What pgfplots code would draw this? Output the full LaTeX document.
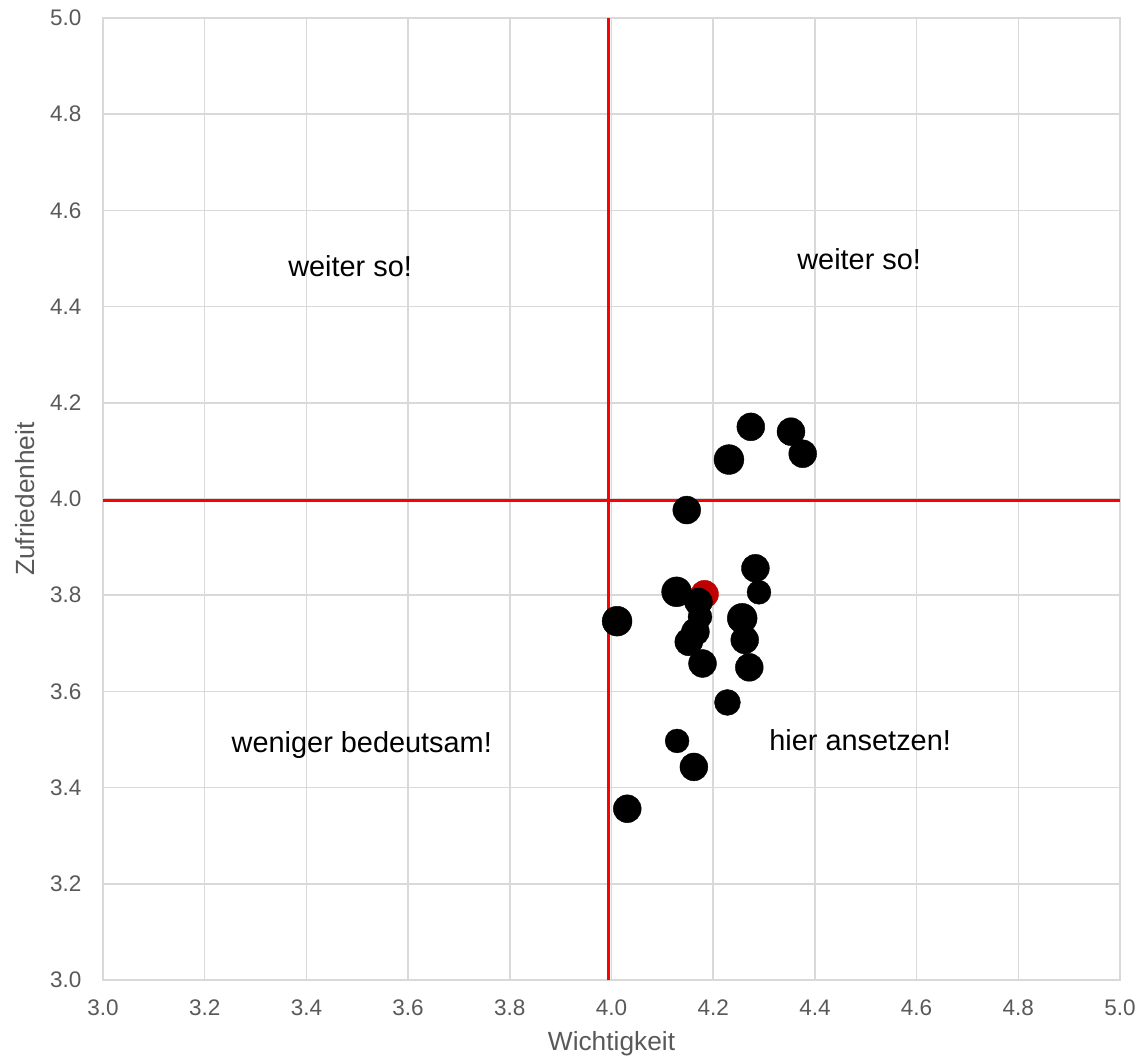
\documentclass[border=0pt]{standalone}
\usepackage{pgfplots}
\pgfplotsset{compat=1.18}
\usepackage{fontspec}
\setmainfont{Liberation Sans}
\definecolor{gridc}{HTML}{D9D9D9}
\definecolor{tickc}{HTML}{595959}
\definecolor{darkred}{HTML}{C00000}
\begin{document}
\begin{tikzpicture}[x=1bp,y=1bp]
\begin{axis}[
  scale only axis,
  width=508.5bp, height=481bp,
  xmin=3, xmax=5, ymin=3, ymax=5,
  xtick={3,3.2,...,5.01}, ytick={3,3.2,...,5.01},
  grid=major,
  major grid style={gridc, line width=0.75bp},
  axis line style={gridc, line width=0.75bp},
  tick style={draw=none},
  /pgf/number format/assume math mode=true,
  /pgf/number format/.cd, fixed, fixed zerofill, precision=1, /pgfplots/.cd,
  ticklabel style={font=\fontsize{11.3}{12}\selectfont, text=tickc},
  xticklabel style={yshift=-6.3bp},
  yticklabel style={xshift=-7.3bp},
  xlabel={Wichtigkeit}, ylabel={Zufriedenheit},
  label style={font=\fontsize{13.2}{15}\selectfont, text=tickc},
  xlabel style={at={(axis description cs:0.5,-0.0665)}, anchor=center},
  ylabel style={at={(axis description cs:-0.0767,0.5)}, anchor=center},
  clip=false,
]
\coordinate (bl) at (rel axis cs:0,0);
\coordinate (tr) at (rel axis cs:1,1);
\addplot[red, line width=1.5bp] coordinates {(3.995,3) (3.995,5)};
\addplot[red, line width=1.5bp] coordinates {(3,3.996) (5,3.996)};
\addplot[only marks, mark=*, scatter, scatter/use mapped color={fill=black, draw=black},
  mark options={line width=0.2bp},
  visualization depends on={\thisrow{r} \as \rr},
  scatter/@pre marker code/.append style={/tikz/mark size=\rr}]
  table[x=x, y=y] {
x y r
4.274 4.150 7
4.353 4.140 7
4.376 4.094 7
4.231 4.082 7.5
4.148 3.977 7
4.283 3.856 7
4.290 3.806 6
4.128 3.807 7.5
4.011 3.746 7.5
4.257 3.752 7.5
4.262 3.707 7
4.271 3.650 7
4.228 3.577 6.5
4.129 3.497 6
4.162 3.443 7
4.031 3.356 7
};
\addplot[only marks, mark=*, mark size=7, darkred, mark options={fill=darkred, draw=darkred, line width=0.2bp}]
  coordinates {(4.183,3.802)};
\addplot[only marks, mark=*, scatter, scatter/use mapped color={fill=black, draw=black},
  mark options={line width=0.2bp},
  visualization depends on={\thisrow{r} \as \rr},
  scatter/@pre marker code/.append style={/tikz/mark size=\rr}]
  table[x=x, y=y] {
x y r
4.171 3.786 7
4.174 3.755 6
4.165 3.724 7
4.152 3.703 7
4.179 3.658 7
};
\node[font=\fontsize{14.5}{16}\selectfont] at (axis cs:3.486,4.484) {weiter so!};
\node[font=\fontsize{14.5}{16}\selectfont] at (axis cs:4.487,4.499) {weiter so!};
\node[font=\fontsize{14.5}{16}\selectfont] at (axis cs:3.509,3.489) {weniger bedeutsam!};
\node[font=\fontsize{14.5}{16}\selectfont] at (axis cs:4.489,3.499) {hier ansetzen!};
\end{axis}
\pgfresetboundingbox
\path ([shift={(-51.5bp,-41.5bp)}]bl) rectangle ([shift={(11.5bp,9bp)}]tr);
\end{tikzpicture}
\end{document}
